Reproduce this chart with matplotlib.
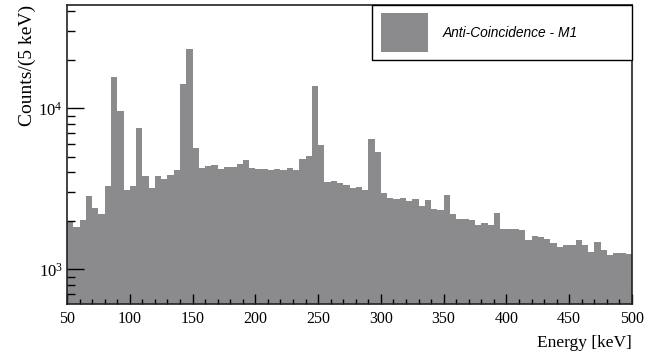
import numpy as np
import matplotlib
matplotlib.use("Agg")
import matplotlib.pyplot as plt
from matplotlib.patches import Rectangle
from matplotlib.ticker import FixedLocator, LogLocator, NullFormatter, FixedFormatter

plt.rcParams["mathtext.fontset"] = "custom"
plt.rcParams["mathtext.rm"] = "Liberation Serif"
plt.rcParams["mathtext.it"] = "Liberation Serif:italic"
plt.rcParams["mathtext.default"] = "rm"

# Data: counts per 5 keV bin, 50-500 keV
bin_edges_start = 50
bin_width = 5
counts = [2000, 1840, 2025, 2850, 2400, 2200, 3290, 15650, 9580, 3100,
          3290, 7580, 3780, 3200, 3810, 3640, 3830, 4140, 14220, 23260,
          5690, 4280, 4360, 4450, 4200, 4300, 4340, 4490, 4800, 4240,
          4220, 4220, 4160, 4200, 4160, 4280, 4160, 4840, 5060, 13750,
          5920, 3500, 3530, 3420, 3340, 3210, 3235, 3110, 6450, 5380,
          2965, 2760, 2720, 2760, 2655, 2720, 2480, 2700, 2370, 2335,
          2890, 2205, 2055, 2055, 2025, 1885, 1950, 1885, 2225, 1775,
          1775, 1770, 1760, 1520, 1620, 1595, 1550, 1460, 1370, 1415,
          1425, 1520, 1415, 1285, 1480, 1320, 1230, 1260, 1260, 1245]
x_ticks = [50, 100, 150, 200, 250, 300, 350, 400, 450, 500]
y_ticks = [1e3, 1e4]
y_tick_labels = [r"$10^{3}$", r"$10^{4}$"]
legend_label = "Anti-Coincidence - M1"
x_label = "Energy [keV]"
y_label = "Counts/(5 keV)"

edges = bin_edges_start + bin_width * np.arange(len(counts) + 1)

W, H = 654, 354
fig = plt.figure(figsize=(W / 100, H / 100), dpi=100)
ax = fig.add_axes([67 / W, 1 - 304 / H, (632 - 67) / W, (304 - 5) / H])

fill_color = "#8b8b8e"
ax.stairs(counts, edges, fill=True, color=fill_color, baseline=1)

ax.set_yscale("log")
ax.set_xlim(50, 500)
ax.set_ylim(609, 43800)

serif = ["Liberation Serif", "DejaVu Serif"]

ax.xaxis.set_major_locator(FixedLocator(x_ticks))
ax.xaxis.set_minor_locator(FixedLocator(np.arange(50, 501, 10)))
ax.set_xticklabels([str(t) for t in x_ticks], fontfamily=serif, fontsize=11.5)

ax.yaxis.set_major_locator(FixedLocator(y_ticks))
ax.yaxis.set_major_formatter(FixedFormatter(y_tick_labels))
ax.yaxis.set_minor_locator(LogLocator(base=10, subs=np.arange(2, 10)))
ax.yaxis.set_minor_formatter(NullFormatter())
for lab in ax.get_yticklabels():
    lab.set_fontsize(12)
    lab.set_fontfamily(serif)

ax.tick_params(axis="x", which="major", direction="in", length=7, width=1, pad=5, top=False)
ax.tick_params(axis="x", which="minor", direction="in", length=3.5, width=1, top=False)
ax.tick_params(axis="y", which="major", direction="in", length=12, width=1, pad=3, right=False)
ax.tick_params(axis="y", which="minor", direction="in", length=6, width=1, right=False)

for s in ax.spines.values():
    s.set_linewidth(1.2)
    s.set_color("#222222")

ax.set_xlabel(x_label, fontfamily=serif, fontsize=12.5, loc="right", labelpad=6)
ax.set_ylabel(y_label, fontfamily=serif, fontsize=14, loc="top")
ax.yaxis.set_label_coords((36 - 67) / 565, 1.0)

# Legend box (manual, ROOT style)
lx0, ly0 = (372 - 67) / 565, (304 - 60) / 299
ax.add_patch(Rectangle((lx0, ly0), 1 - lx0, 1 - ly0, transform=ax.transAxes,
                       facecolor="white", edgecolor="black", linewidth=1.0, zorder=5,
                       clip_on=False))
px0, px1 = (381 - 67) / 565, (428 - 67) / 565
py0, py1 = (304 - 52) / 299, (304 - 13) / 299
ax.add_patch(Rectangle((px0, py0), px1 - px0, py1 - py0, transform=ax.transAxes,
                       facecolor=fill_color, edgecolor="none", zorder=6))
ax.text((443 - 67) / 565, (304 - 33) / 299, legend_label, transform=ax.transAxes,
        fontfamily=["Liberation Sans", "DejaVu Sans"], fontstyle="italic", fontsize=9.9,
        va="center", ha="left", zorder=7)

fig.savefig("out.png", dpi=100)
